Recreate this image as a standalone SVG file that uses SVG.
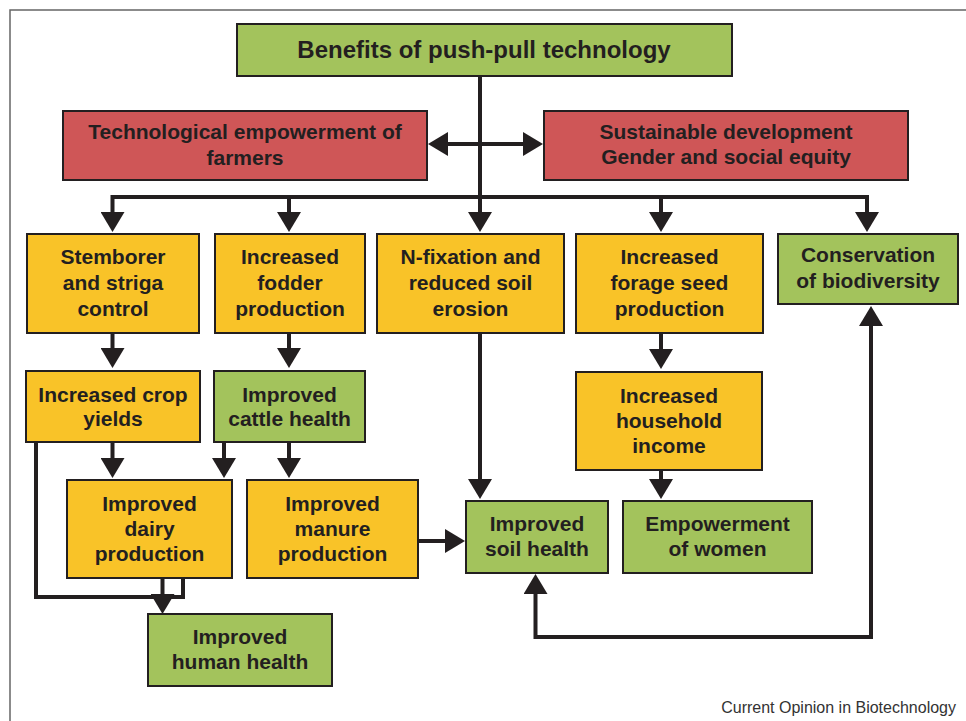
<svg xmlns="http://www.w3.org/2000/svg" width="966" height="721" viewBox="0 0 966 721">
<defs>
<style>
.box{stroke:#231f20;stroke-width:2}
.g{fill:#a3c35c}
.r{fill:#cf5657}
.y{fill:#f9c328}
.t{font-family:"Liberation Sans",Arial,sans-serif;font-weight:bold;font-size:21px;fill:#231f20;text-anchor:middle}
.c{fill:none;stroke:#231f20;stroke-width:4;stroke-linejoin:miter}
.a{marker-end:url(#ah)}
.b{marker-start:url(#ah);marker-end:url(#ah)}
</style>
<marker id="ah" viewBox="0 0 20 24" refX="12" refY="12" markerWidth="20" markerHeight="24" markerUnits="userSpaceOnUse" orient="auto-start-reverse">
<path d="M0,0 L20,12 L0,24 Z" fill="#231f20"/>
</marker>
</defs>
<rect x="10" y="10" width="990" height="740" fill="#fff" stroke="#666" stroke-width="1.5"/>

<g id="connectors">
<path class="c a" d="M480,76 V224"/>
<path class="c b" d="M436,144 H535"/>
<path class="c b" d="M112.5,224 V197 H867 V224"/>
<path class="c a" d="M289,197 V224"/>
<path class="c a" d="M661,197 V224"/>
<path class="c a" d="M112.5,333 V360"/>
<path class="c a" d="M289,333 V360"/>
<path class="c a" d="M661,333 V361"/>
<path class="c a" d="M112.5,442 V470"/>
<path class="c a" d="M224,442 V470"/>
<path class="c a" d="M289,442 V470"/>
<path class="c a" d="M480,333 V491"/>
<path class="c a" d="M661,470 V491"/>
<path class="c a" d="M418,541 H457"/>
<path class="c" d="M36,442 V597 H183 V578"/>
<path class="c a" d="M162.5,578 V606"/>
<path class="c b" d="M535.5,582 V637 H871 V314"/>
</g>

<g id="title"><rect class="box g" x="237" y="24" width="495" height="52"/><text class="t" x="484" y="58" font-size="24" style="font-size:24px">Benefits of push-pull technology</text></g>
<g id="tech"><rect class="box r" x="63" y="111" width="364" height="69"/><text class="t" x="245" y="139">Technological empowerment of</text><text class="t" x="245" y="165">farmers</text></g>
<g id="sustain"><rect class="box r" x="544" y="111" width="364" height="69"/><text class="t" x="726" y="139">Sustainable development</text><text class="t" x="726" y="164">Gender and social equity</text></g>
<g id="stemborer"><rect class="box y" x="27" y="234" width="172" height="99"/><text class="t" x="113" y="264">Stemborer</text><text class="t" x="113" y="290">and striga</text><text class="t" x="113" y="316">control</text></g>
<g id="fodder"><rect class="box y" x="215" y="234" width="150" height="99"/><text class="t" x="290" y="264">Increased</text><text class="t" x="290" y="290">fodder</text><text class="t" x="290" y="316">production</text></g>
<g id="nfix"><rect class="box y" x="377" y="234" width="187" height="99"/><text class="t" x="470.5" y="264">N-fixation and</text><text class="t" x="470.5" y="290">reduced soil</text><text class="t" x="470.5" y="316">erosion</text></g>
<g id="forage"><rect class="box y" x="576" y="234" width="187" height="99"/><text class="t" x="669.5" y="264">Increased</text><text class="t" x="669.5" y="290">forage seed</text><text class="t" x="669.5" y="316">production</text></g>
<g id="conservation"><rect class="box g" x="778" y="234" width="180" height="70"/><text class="t" x="868" y="262">Conservation</text><text class="t" x="868" y="288">of biodiversity</text></g>
<g id="crop"><rect class="box y" x="26" y="371" width="174" height="71"/><text class="t" x="113" y="402">Increased crop</text><text class="t" x="113" y="426">yields</text></g>
<g id="cattle"><rect class="box g" x="214" y="371" width="151" height="71"/><text class="t" x="289.5" y="402">Improved</text><text class="t" x="289.5" y="426">cattle health</text></g>
<g id="household"><rect class="box y" x="576" y="372" width="186" height="98"/><text class="t" x="669" y="403">Increased</text><text class="t" x="669" y="428">household</text><text class="t" x="669" y="453">income</text></g>
<g id="dairy"><rect class="box y" x="67" y="480" width="165" height="98"/><text class="t" x="149.5" y="511">Improved</text><text class="t" x="149.5" y="536">dairy</text><text class="t" x="149.5" y="561">production</text></g>
<g id="manure"><rect class="box y" x="247" y="480" width="171" height="98"/><text class="t" x="332.5" y="511">Improved</text><text class="t" x="332.5" y="536">manure</text><text class="t" x="332.5" y="561">production</text></g>
<g id="soil"><rect class="box g" x="466" y="501" width="142" height="72"/><text class="t" x="537" y="531">Improved</text><text class="t" x="537" y="556">soil health</text></g>
<g id="women"><rect class="box g" x="623" y="501" width="189" height="72"/><text class="t" x="717.5" y="531">Empowerment</text><text class="t" x="717.5" y="556">of women</text></g>
<g id="human"><rect class="box g" x="148" y="614" width="184" height="72"/><text class="t" x="240" y="644">Improved</text><text class="t" x="240" y="669">human health</text></g>

<text x="956" y="713" font-family="'Liberation Sans',Arial,sans-serif" font-size="16" fill="#333" text-anchor="end">Current Opinion in Biotechnology</text>
</svg>
